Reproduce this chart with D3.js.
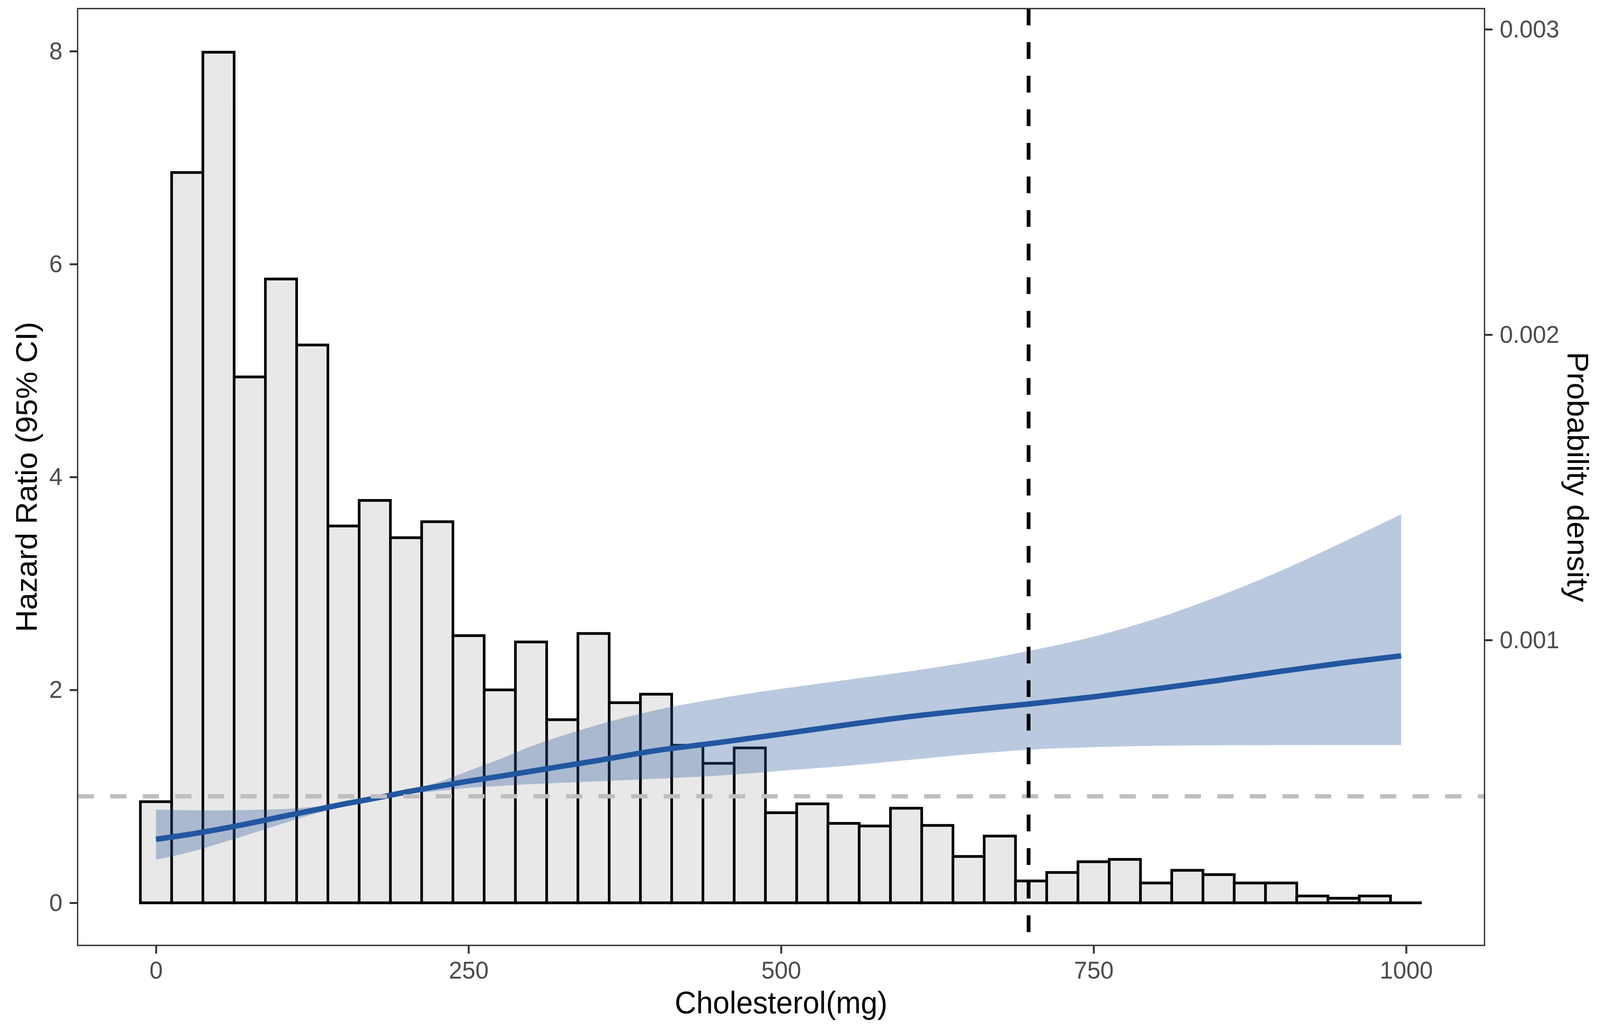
<!DOCTYPE html>
<html>
<head>
<meta charset="utf-8">
<script src="https://cdn.jsdelivr.net/npm/d3@7"></script>
<style>
  html, body { margin: 0; padding: 0; background: #ffffff; overflow: hidden; width: 100%; height: 100%; }
  svg { display: block; width: 100vw; height: 100vh; }
</style>
</head>
<body>
<svg id="chart" viewBox="0 0 4226 2630" preserveAspectRatio="none"></svg>
<script>
// ---------------- DATA ----------------
// Histogram bins (bin centres, mg) and bar heights (on the hazard-ratio axis)
const binCenters = [0, 25, 50, 75, 100, 125, 150, 175, 200, 225, 250, 275, 300, 325, 350, 375, 400, 425, 450, 475,
                    500, 525, 550, 575, 600, 625, 650, 675, 700, 725, 750, 775, 800, 825, 850, 875, 900, 925, 950, 975, 1000];
const binHeights = [0.95, 6.86, 7.99, 4.94, 5.86, 5.24, 3.54, 3.78, 3.43, 3.58, 2.51, 2.00, 2.45, 1.72, 2.53, 1.88, 1.96, 1.48, 1.31, 1.455,
                    0.846, 0.93, 0.746, 0.722, 0.888, 0.727, 0.435, 0.627, 0.205, 0.285, 0.386, 0.408, 0.186, 0.305, 0.265, 0.186, 0.186, 0.064, 0.043, 0.064, 0];
const binWidth = 25;

// Restricted cubic spline: cholesterol (mg) vs hazard ratio with 95% CI
const splineX  = [0, 25, 50, 75, 100, 125, 150, 175, 183, 200, 225, 250, 275, 300, 325, 350, 400, 450, 500, 550, 600, 650, 700, 750, 800, 850, 900, 950, 996];
const splineHR = [0.597, 0.64, 0.69, 0.747, 0.808, 0.867, 0.927, 0.982, 1.0, 1.04, 1.093, 1.143, 1.188, 1.235, 1.283, 1.33, 1.43, 1.505, 1.585, 1.668, 1.745, 1.81, 1.87, 1.935, 2.01, 2.09, 2.175, 2.255, 2.32];
const splineLo = [0.405, 0.47, 0.555, 0.645, 0.74, 0.83, 0.905, 0.965, 1.0, 1.025, 1.05, 1.08, 1.098, 1.115, 1.128, 1.14, 1.165, 1.195, 1.24, 1.285, 1.34, 1.395, 1.44, 1.462, 1.475, 1.48, 1.482, 1.483, 1.483];
const splineHi = [0.876, 0.87, 0.868, 0.872, 0.88, 0.90, 0.93, 0.975, 1.0, 1.05, 1.13, 1.24, 1.35, 1.47, 1.57, 1.66, 1.81, 1.92, 2.01, 2.09, 2.17, 2.26, 2.37, 2.50, 2.67, 2.88, 3.12, 3.39, 3.65];

const refHR = 1;        // horizontal reference line
const cutoffX = 698;    // vertical dashed line

// Axis ticks
const xTicks = [0, 250, 500, 750, 1000];
const yTicks = [0, 2, 4, 6, 8];
const yRightTicks = [0.001, 0.002, 0.003];

const xTitle = "Cholesterol(mg)";
const yTitle = "Hazard Ratio (95% CI)";
const yRightTitle = "Probability density";

// ---------------- LAYOUT ----------------
const panel = { left: 205, right: 3921, top: 22, bottom: 2421 };
const FONT = "'Liberation Sans', Arial, Helvetica, sans-serif";

const svg = d3.select("#chart");
svg.append("rect").attr("width", 4226).attr("height", 2630).attr("fill", "#ffffff");

const x = d3.scaleLinear().domain([-62.7, 1062.7]).range([panel.left, panel.right]);
const y = d3.scaleLinear().domain([-0.4, 8.4]).range([panel.bottom, panel.top]);
const yR = d3.scaleLinear().domain([0, 0.0030678]).range([panel.bottom, panel.top]);

svg.append("defs").append("clipPath").attr("id", "clip")
  .append("rect")
  .attr("x", panel.left).attr("y", panel.top)
  .attr("width", panel.right - panel.left).attr("height", panel.bottom - panel.top);

const plot = svg.append("g").attr("clip-path", "url(#clip)");

// Histogram bars (paths so that zero-height bins still draw their outline)
const bins = binCenters.map((c, i) => ({ c, h: binHeights[i] }));
plot.append("g").selectAll("path").data(bins).join("path")
  .attr("d", d => {
    const x0 = x(d.c - binWidth / 2), x1 = x(d.c + binWidth / 2);
    const y0 = y(0), y1 = y(d.h);
    return `M${x0},${y0}L${x0},${y1}L${x1},${y1}L${x1},${y0}Z`;
  })
  .attr("fill", "#E8E8E8")
  .attr("stroke", "#000000")
  .attr("stroke-width", 7)
  .attr("stroke-linejoin", "miter");

// CI ribbon
const spline = splineX.map((v, i) => ({ x: v, hr: splineHR[i], lo: splineLo[i], hi: splineHi[i] }));
plot.append("path").datum(spline)
  .attr("d", d3.area().x(d => x(d.x)).y0(d => y(d.lo)).y1(d => y(d.hi)).curve(d3.curveMonotoneX))
  .attr("fill", "#2E5C9E")
  .attr("fill-opacity", 0.33);

// HR line
plot.append("path").datum(spline)
  .attr("d", d3.line().x(d => x(d.x)).y(d => y(d.hr)).curve(d3.curveMonotoneX))
  .attr("fill", "none")
  .attr("stroke", "#2257A0")
  .attr("stroke-width", 14)
  .attr("stroke-linecap", "butt");

// Reference line HR = 1
plot.append("line")
  .attr("x1", panel.left).attr("x2", panel.right)
  .attr("y1", y(refHR)).attr("y2", y(refHR))
  .attr("stroke", "#BEBEBE").attr("stroke-width", 11)
  .attr("stroke-dasharray", "43,43");

// Vertical cutoff line
plot.append("line")
  .attr("x1", x(cutoffX)).attr("x2", x(cutoffX))
  .attr("y1", panel.top).attr("y2", panel.bottom)
  .attr("stroke", "#000000").attr("stroke-width", 10)
  .attr("stroke-dasharray", "43,43");

// Panel border
svg.append("rect")
  .attr("x", panel.left).attr("y", panel.top)
  .attr("width", panel.right - panel.left).attr("height", panel.bottom - panel.top)
  .attr("fill", "none").attr("stroke", "#333333").attr("stroke-width", 3.5);

// ---------------- AXES ----------------
const tickLen = 21;
const tickColor = "#333333";
const labelColor = "#4D4D4D";
const tickFont = 63;
const titleFont = 79;

function styleAxis(g) {
  g.select(".domain").remove();
  g.selectAll(".tick line").attr("stroke", tickColor).attr("stroke-width", 5);
  g.selectAll(".tick text").attr("fill", labelColor)
    .attr("font-family", FONT).attr("font-size", tickFont);
}

// Bottom axis
const gx = svg.append("g").attr("transform", `translate(0,${panel.bottom})`)
  .call(d3.axisBottom(x).tickValues(xTicks).tickSize(tickLen).tickPadding(19).tickFormat(d3.format("d")));
styleAxis(gx);

// Left axis
const gy = svg.append("g").attr("transform", `translate(${panel.left},0)`)
  .call(d3.axisLeft(y).tickValues(yTicks).tickSize(tickLen).tickPadding(19).tickFormat(d3.format("d")));
styleAxis(gy);

// Right axis
const gyr = svg.append("g").attr("transform", `translate(${panel.right},0)`)
  .call(d3.axisRight(yR).tickValues(yRightTicks).tickSize(tickLen).tickPadding(19).tickFormat(d3.format(".3f")));
styleAxis(gyr);

// Titles
const midX = (panel.left + panel.right) / 2;
const midY = (panel.top + panel.bottom) / 2;

svg.append("text")
  .attr("x", midX).attr("y", 2595)
  .attr("text-anchor", "middle")
  .attr("font-family", FONT).attr("font-size", titleFont).attr("fill", "#000000")
  .text(xTitle);

svg.append("text")
  .attr("transform", `translate(97,${midY}) rotate(-90)`)
  .attr("text-anchor", "middle")
  .attr("font-family", FONT).attr("font-size", titleFont).attr("fill", "#000000")
  .text(yTitle);

svg.append("text")
  .attr("transform", `translate(4140,${midY}) rotate(90)`)
  .attr("text-anchor", "middle")
  .attr("font-family", FONT).attr("font-size", titleFont).attr("fill", "#000000")
  .text(yRightTitle);
</script>
</body>
</html>
